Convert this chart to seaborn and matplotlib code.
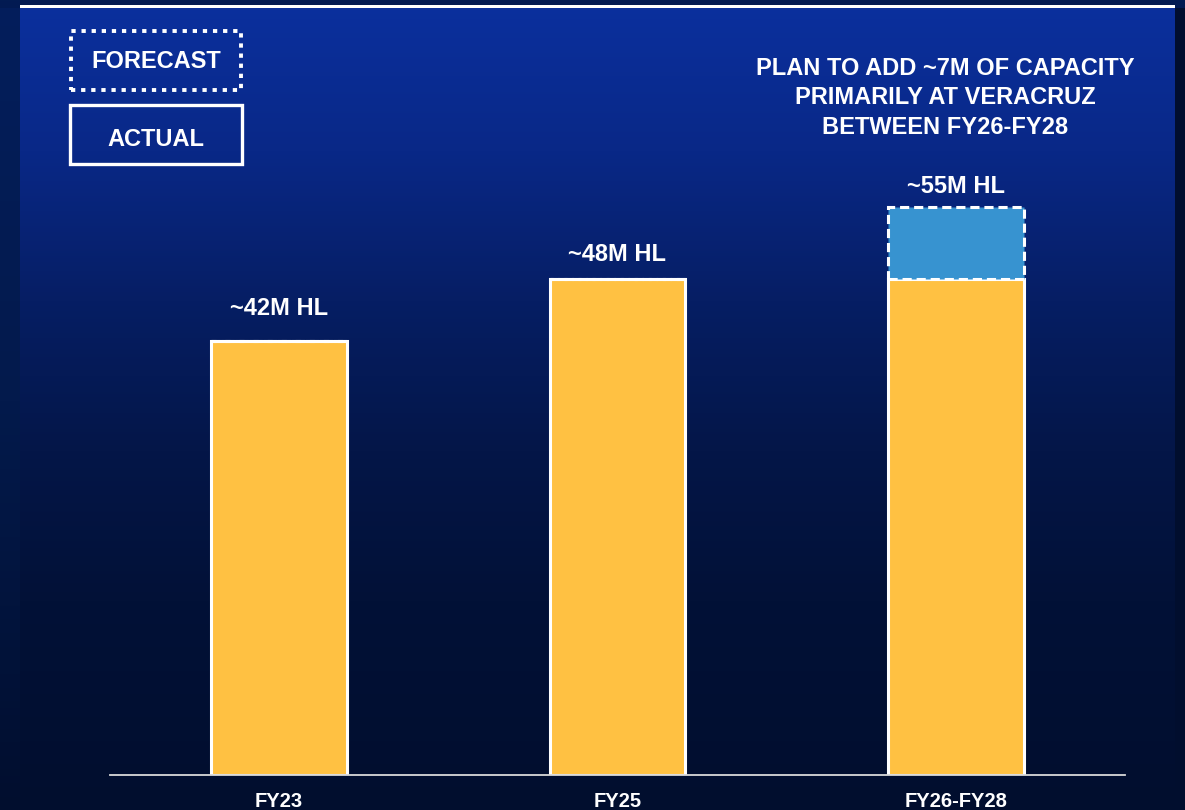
import numpy as np
import matplotlib
matplotlib.use("Agg")
import matplotlib.pyplot as plt
from matplotlib.patches import Rectangle
import seaborn as sns

# Capacity (million hectolitres)
periods = ["FY23", "FY25", "FY26-FY28"]
actual = [42, 48, 48]
added = [0, 0, 7]
totals = [42, 48, 55]
value_labels = ["~42M HL", "~48M HL", "~55M HL"]
note = "PLAN TO ADD ~7M OF CAPACITY\nPRIMARILY AT VERACRUZ\nBETWEEN FY26-FY28"
legend_labels = ["FORECAST", "ACTUAL"]

YELLOW = "#ffc142"
BLUE = "#3793d0"
W, H = 1185, 810

sns.set_theme(style="white")
plt.rcParams["font.family"] = ["Liberation Sans", "DejaVu Sans"]
plt.rcParams["font.weight"] = "bold"

fig = plt.figure(figsize=(W / 100, H / 100), dpi=100)

# ---- gradient backdrop -------------------------------------------------
def ramp(stops, n):
    ys = np.array([s[0] for s in stops], dtype=float)
    cols = np.array([s[1] for s in stops], dtype=float) / 255.0
    yy = np.arange(n)
    return np.stack([np.interp(yy, ys, cols[:, c]) for c in range(3)], axis=1)

inner = ramp([(0, (11, 48, 158)), (150, (9, 40, 135)), (300, (6, 30, 100)),
              (450, (4, 22, 72)), (600, (2, 17, 55)), (810, (1, 14, 46))], H)
left = ramp([(0, (3, 30, 92)), (400, (3, 26, 76)), (810, (1, 14, 46))], H)
right = ramp([(0, (2, 14, 48)), (810, (1, 14, 46))], H)

bg = np.zeros((H, W, 3))
bg[:, :20] = left[:, None, :]
bg[:, 20:1175] = inner[:, None, :]
bg[:, 1175:] = right[:, None, :]
bg[:8, :] = left[:8][:, None, :] * 0.9
bg[5:8, 20:1175] = 1.0

bg_ax = fig.add_axes([0, 0, 1, 1], zorder=-10)
bg_ax.imshow(bg, aspect="auto", interpolation="nearest")
bg_ax.set_axis_off()

# ---- bars ---------------------------------------------------------------
px_per_unit = 10.33
base_px = 775
ax_h_px = base_px - 5
ax = fig.add_axes([110 / W, (H - base_px) / H, 1015 / W, ax_h_px / H])
ax.patch.set_alpha(0)

sns.barplot(x=periods, y=actual, ax=ax, color=YELLOW, saturation=1,
            edgecolor="white", linewidth=2.2, width=0.4, zorder=3)
ax.bar(range(len(periods)), added, bottom=actual, width=0.4, color=BLUE,
       edgecolor="white", linewidth=2.2, linestyle=(0, (3.0, 1.6)), zorder=3)

ax.set_xlim(-0.5, 2.5)
ax.set_ylim(0, ax_h_px / px_per_unit)
ax.set_xlabel("")
ax.set_ylabel("")
ax.set_yticks([])
ax.tick_params(axis="x", length=0, pad=12, labelsize=14.5, colors="white")
for lbl in ax.get_xticklabels():
    lbl.set_fontweight("bold")
for side in ["top", "right", "left"]:
    ax.spines[side].set_visible(False)
ax.spines["bottom"].set_color("#d9d9d9")
ax.spines["bottom"].set_linewidth(1.3)
ax.spines["bottom"].set_zorder(5)

label_offsets = [33, 25, 20]
for i, (v, txt) in enumerate(zip(totals, value_labels)):
    ax.annotate(txt, xy=(i, v), xytext=(0, label_offsets[i] * 0.72),
                textcoords="offset points", ha="center", va="center",
                color="white", fontsize=17, fontweight="bold")

# ---- note and legend boxes ----------------------------------------------
fig.text(945 / W, 1 - 98 / H, note, ha="center", va="center", color="white",
         fontsize=17, fontweight="bold", linespacing=1.36)

fig.patches.append(Rectangle((71 / W, 1 - 90 / H), 170 / W, 59 / H,
                             transform=fig.transFigure, fill=False,
                             edgecolor="white", linewidth=2.8,
                             linestyle=(0, (1.1, 1.5))))
fig.patches.append(Rectangle((70 / W, 1 - 164 / H), 172 / W, 59 / H,
                             transform=fig.transFigure, fill=False,
                             edgecolor="white", linewidth=2.4))
fig.text(156 / W, 1 - 62 / H, legend_labels[0], ha="center", va="center",
         color="white", fontsize=17, fontweight="bold")
fig.text(156 / W, 1 - 139 / H, legend_labels[1], ha="center", va="center",
         color="white", fontsize=17, fontweight="bold")

fig.savefig("out.png", dpi=100)
